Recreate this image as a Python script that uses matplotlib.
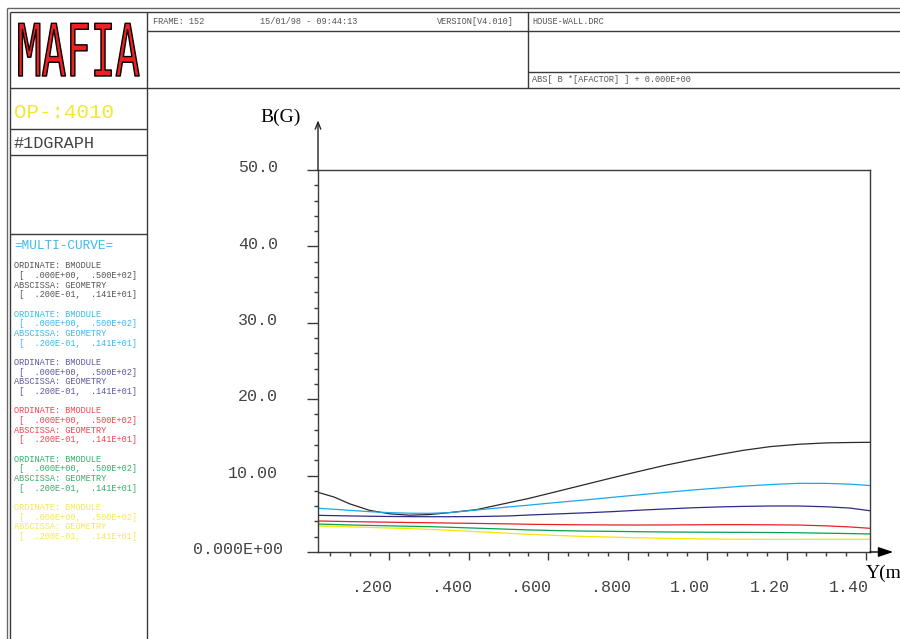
import numpy as np
import matplotlib
matplotlib.use("Agg")
import matplotlib.pyplot as plt
from matplotlib.lines import Line2D
from matplotlib.patheffects import AbstractPathEffect
from matplotlib.transforms import Affine2D

# ---------------------------------------------------------------- data
y_pos = [0.02, 0.06, 0.10, 0.15, 0.20, 0.25, 0.30, 0.35, 0.42, 0.50, 0.55, 0.62,
         0.69, 0.76, 0.82, 0.89, 0.96, 1.03, 1.09, 1.16, 1.23, 1.30, 1.36, 1.41]

b_black = [7.81, 7.2, 6.3, 5.45, 5.0, 4.82, 4.9, 5.15, 5.55, 6.45, 7.0, 7.9,
           8.8, 9.7, 10.45, 11.3, 12.05, 12.75, 13.3, 13.8, 14.1, 14.28, 14.33, 14.36]
b_cyan = [5.72, 5.6, 5.45, 5.28, 5.15, 5.08, 5.06, 5.15, 5.5, 5.9, 6.13, 6.48,
          6.8, 7.15, 7.44, 7.78, 8.1, 8.38, 8.62, 8.83, 8.99, 8.98, 8.88, 8.7]
b_navy = [4.8, 4.76, 4.72, 4.68, 4.65, 4.63, 4.62, 4.62, 4.64, 4.72, 4.84, 4.98,
          5.12, 5.28, 5.45, 5.62, 5.78, 5.9, 5.97, 6.02, 6.02, 5.92, 5.75, 5.4]
b_red = [4.06, 4.02, 3.98, 3.94, 3.9, 3.86, 3.83, 3.79, 3.74, 3.68, 3.63, 3.59,
         3.56, 3.54, 3.53, 3.54, 3.56, 3.58, 3.58, 3.56, 3.53, 3.42, 3.28, 3.1]
b_green = [3.66, 3.6, 3.54, 3.48, 3.42, 3.37, 3.32, 3.24, 3.12, 2.98, 2.89, 2.8,
           2.74, 2.7, 2.66, 2.62, 2.6, 2.58, 2.57, 2.55, 2.52, 2.46, 2.41, 2.36]
b_yellow = [3.4, 3.35, 3.29, 3.22, 3.14, 3.06, 2.97, 2.84, 2.66, 2.45, 2.32, 2.17,
            2.04, 1.95, 1.87, 1.79, 1.73, 1.69, 1.66, 1.65, 1.65, 1.66, 1.66, 1.66]

curves = [b_black, b_cyan, b_navy, b_red, b_green, b_yellow]
curve_colors = ["#2a2a2a", "#18a8e6", "#2c2c88", "#e8202c", "#08a050", "#f6e600"]
legend_colors = ["#555555", "#3cb8ee", "#5a5aa2", "#f04650", "#34b06a", "#f4ea52"]

y_ticks = [0, 10, 20, 30, 40, 50]
y_tick_labels = ["0.000E+00", "10.00", "20.0", "30.0", "40.0", "50.0"]
x_ticks = [0.2, 0.4, 0.6, 0.8, 1.0, 1.2, 1.4]
x_tick_labels = [".200", ".400", ".600", ".800", "1.00", "1.20", "1.40"]

legend_lines = ["ORDINATE: BMODULE",
                " [  .000E+00,  .500E+02]",
                "ABSCISSA: GEOMETRY",
                " [  .200E-01,  .141E+01]"]

# ---------------------------------------------------------------- figure
W, H = 900, 639
fig = plt.figure(figsize=(W / 100, H / 100), dpi=100)
fig.patch.set_facecolor("white")
MONO = "Liberation Mono"
SERIF = "Liberation Serif"
FRAME = "#3a3a3a"


def fx(px):
    return px / W


def fy(py):
    return 1 - py / H


def seg(x0, y0, x1, y1, color=FRAME, lw=1.0):
    fig.add_artist(Line2D([fx(x0), fx(x1)], [fy(y0), fy(y1)],
                          transform=fig.transFigure, color=color, lw=lw,
                          solid_capstyle="butt"))


def label(px, py, s, size, color="#555555", ha="left", family=MONO):
    fig.text(fx(px), fy(py), s, fontsize=size, color=color, ha=ha,
             va="center", family=family)


# outer double frame
seg(7, 8, W, 8, "#666666", 1.0)
seg(7, 8, 7, H, "#666666", 1.0)
seg(10, 12, W, 12, FRAME, 1.0)
seg(10, 12, 10, H, FRAME, 1.0)
# header and left column boxes
seg(147, 12, 147, H)
seg(147, 31, W, 31)
seg(528, 12, 528, 88)
seg(528, 72, W, 72)
seg(10, 88, W, 88)
seg(10, 129, 147, 129)
seg(10, 155, 147, 155)
seg(10, 234, 147, 234)


class StretchY(AbstractPathEffect):
    """Stretch glyph outlines vertically about a baseline and outline them."""

    def __init__(self, sy, y0, edge="black", lw=1.0):
        super().__init__()
        self.sy, self.y0, self.edge, self.lw = sy, y0, edge, lw

    def draw_path(self, renderer, gc, tpath, affine, rgbFace=None):
        t = affine + Affine2D().translate(0, -self.y0).scale(1, self.sy).translate(0, self.y0)
        gc0 = renderer.new_gc()
        gc0.copy_properties(gc)
        gc0.set_foreground(self.edge)
        gc0.set_linewidth(self.lw)
        renderer.draw_path(gc0, tpath, t, rgbFace)
        gc0.restore()


logo = fig.text(fx(17), fy(76), "MAFIA", fontsize=29.4, color="#ee2024",
                family="DejaVu Sans Mono", ha="left", va="baseline")
logo.set_path_effects([StretchY(1.77, H - 76, "black", 1.0)])

# header texts
label(153, 22, "FRAME: 152", 6.2)
label(260, 22, "15/01/98 - 09:44:13", 6.2)
label(514, 22, "VERSION[V4.010]", 6.2, ha="right")
label(532, 22, "HOUSE-WALL.DRC", 6.2)
label(532, 80, "ABS[ B *[AFACTOR] ] + 0.000E+00", 6.2)

# left column texts
label(14, 113, "OP-:4010", 15, color="#f2e830")
label(14, 144, "#1DGRAPH", 12.2, color="#444444")
label(14, 246, "=MULTI-CURVE=", 9.2, color="#3cb8ee")
for g, col in enumerate(legend_colors):
    base = 266 + 48.3 * g
    for k, line in enumerate(legend_lines):
        label(14, base + 9.65 * k, line, 6.2, color=col)

# ---------------------------------------------------------------- graph
ax = fig.add_axes([fx(318), fy(552), (870 - 318) / W, (552 - 170) / H])
ax.set_xlim(0.02, 1.41)
ax.set_ylim(0, 50)
ax.set_facecolor("none")
for side in ["left", "right", "top", "bottom"]:
    ax.spines[side].set_color(FRAME)
    ax.spines[side].set_linewidth(1.0)

for vals, col in zip(curves, curve_colors):
    ax.plot(y_pos, vals, color=col, lw=0.9, solid_joinstyle="round")

ax.set_yticks(y_ticks)
ax.set_yticks(np.arange(0, 51, 2), minor=True)
ax.set_xticks(x_ticks)
ax.set_xticks(np.arange(0.05, 1.401, 0.05), minor=True)
ax.tick_params(axis="y", which="major", direction="out", length=8, width=1,
               color=FRAME, labelleft=False)
ax.tick_params(axis="y", which="minor", direction="out", length=3, width=1,
               color=FRAME)
ax.tick_params(axis="x", which="major", direction="out", length=6, width=1,
               color=FRAME, labelbottom=False)
ax.tick_params(axis="x", which="minor", direction="out", length=3, width=1,
               color=FRAME)

ytr = ax.get_yaxis_transform()
for v, s in zip(y_ticks, y_tick_labels):
    xr = 283 if v == 0 else 278
    ax.text((xr - 318) / (870 - 318), v + 0.3, s, transform=ytr,
            fontsize=12, family=MONO, color="#444444", ha="right", va="center")
xtr = ax.get_xaxis_transform()
for v, s in zip(x_ticks, x_tick_labels):
    ax.text(v + 3 / 395, -36 / 382, s, transform=xtr, fontsize=12, family=MONO,
            color="#444444", ha="right", va="center")

# axis arrows
ax.annotate("", xy=(1.042, 0), xytext=(1.0, 0), xycoords="axes fraction",
            arrowprops=dict(arrowstyle="-|>,head_length=0.9,head_width=0.3",
                            color="black", lw=1.0, shrinkA=0, shrinkB=0))
ax.annotate("", xy=(0, 1.13), xytext=(0, 1.0), xycoords="axes fraction",
            arrowprops=dict(arrowstyle="->,head_length=0.5,head_width=0.2",
                            color="#222222", lw=1.0, shrinkA=0, shrinkB=0))

label(260, 117, "B(G)", 14, color="black", family=SERIF)
label(866, 573, "Y(m", 14, color="black", family=SERIF)

fig.savefig("out.png", dpi=100)
